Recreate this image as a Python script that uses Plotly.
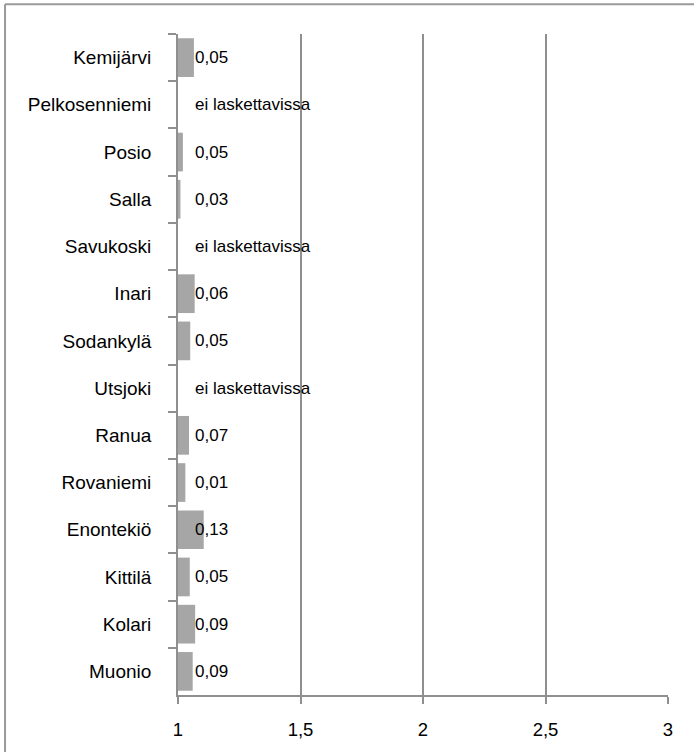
import plotly.graph_objects as go

# Municipalities, top to bottom
municipalities = [
    "Kemijärvi", "Pelkosenniemi", "Posio", "Salla", "Savukoski", "Inari",
    "Sodankylä", "Utsjoki", "Ranua", "Rovaniemi", "Enontekiö", "Kittilä",
    "Kolari", "Muonio",
]
# Ratio values (None = not calculable)
ratios = [
    1.065, None, 1.02, 1.01, None, 1.068,
    1.05, None, 1.045, 1.03, 1.105, 1.048,
    1.07, 1.06,
]
# Texts printed next to each bar
value_labels = [
    "0,05", "ei laskettavissa", "0,05", "0,03", "ei laskettavissa", "0,06",
    "0,05", "ei laskettavissa", "0,07", "0,01", "0,13", "0,05",
    "0,09", "0,09",
]
x_tickvals = [1, 1.5, 2, 2.5, 3]
x_ticktext = ["1", "1,5", "2", "2,5", "3"]

FONT = "Liberation Sans, Arial, sans-serif"
GRID = "#8f8f8f"
BAR = "#a6a6a6"
LABEL_X = 1.06

fig = go.Figure()
fig.add_trace(go.Bar(
    y=municipalities,
    x=[None if r is None else r - 1 for r in ratios],
    base=1,
    orientation="h",
    marker=dict(color=BAR, line=dict(width=0)),
    width=0.82,
    hoverinfo="skip",
))

for name, txt in zip(municipalities, value_labels):
    fig.add_annotation(
        x=LABEL_X, y=name, xref="x", yref="y",
        text=txt, showarrow=False, xanchor="left", yanchor="middle",
        font=dict(family=FONT, size=17, color="#000000"),
    )

# Outer frame (top and left edges)
fig.add_shape(type="line", xref="paper", yref="paper",
              x0=-0.353, x1=1.2, y0=1.045, y1=1.045,
              line=dict(color="#9a9a9a", width=2))
fig.add_shape(type="line", xref="paper", yref="paper",
              x0=-0.353, x1=-0.353, y0=1.045, y1=-0.2,
              line=dict(color="#9a9a9a", width=2))

fig.update_layout(
    width=694, height=752,
    margin=dict(l=178, r=26, t=34, b=57),
    paper_bgcolor="white", plot_bgcolor="white",
    showlegend=False,
    font=dict(family=FONT, size=18, color="#000000"),
    bargap=0.18,
)
fig.update_xaxes(
    range=[1, 3], tickvals=x_tickvals, ticktext=x_ticktext,
    showgrid=True, gridcolor=GRID, gridwidth=1.5,
    showline=True, linecolor=GRID, linewidth=1.5,
    ticks="outside", ticklen=7, tickcolor=GRID, tickwidth=1.5,
    ticklabelstandoff=10,
    tickfont=dict(family=FONT, size=18.5),
    zeroline=False, fixedrange=True,
)
fig.update_yaxes(
    type="category", categoryorder="array", categoryarray=municipalities,
    autorange="reversed", tickson="boundaries",
    showgrid=False, showline=True, linecolor=GRID, linewidth=1.5,
    ticks="outside", ticklen=8, tickcolor=GRID, tickwidth=1.5,
    ticksuffix="\u00a0\u00a0\u00a0\u00a0",
    tickfont=dict(family=FONT, size=19),
    zeroline=False, fixedrange=True,
)

fig.write_html("out.html")
